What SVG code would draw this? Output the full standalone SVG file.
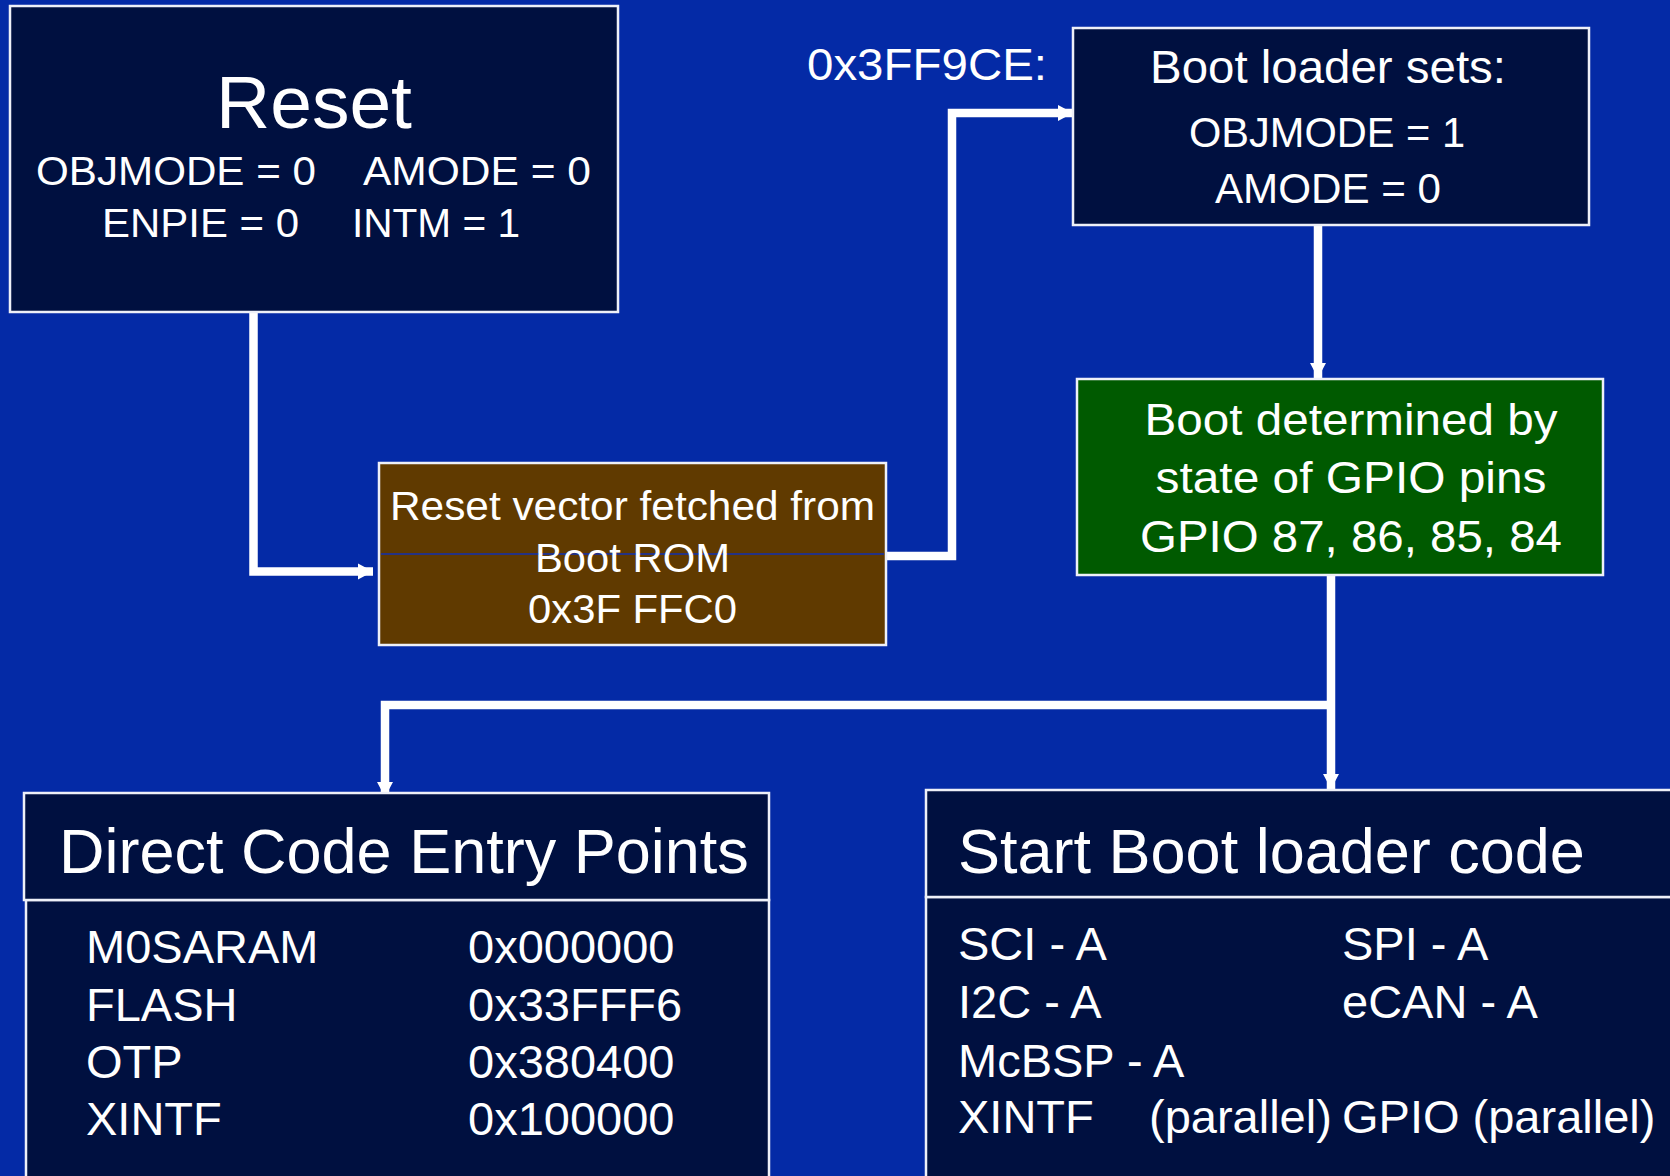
<svg xmlns="http://www.w3.org/2000/svg" width="1670" height="1176" viewBox="0 0 1670 1176">
<defs>
<style>
.box{stroke:#eef0f8;stroke-width:2.5}
.navy{fill:#001040}
.brown{fill:#603a00}
.green{fill:#005a00}
.t{font-family:"Liberation Sans",Arial,Helvetica,sans-serif;fill:#ffffff}
.m{text-anchor:middle}
.conn{fill:none;stroke:#ffffff;stroke-width:8.5}
</style>
<marker id="ah" markerUnits="userSpaceOnUse" markerWidth="16" markerHeight="18" refX="15" refY="9" orient="auto">
<path d="M0,1 L15,9 L0,17 Z" fill="#ffffff"/>
</marker>
</defs>
<rect x="0" y="0" width="1670" height="1176" fill="#042aa6"/>

<g id="connectors">
<path class="conn" d="M253.5,312 V571.5 H373" marker-end="url(#ah)"/>
<path class="conn" d="M886,556 H952 V113 H1073" marker-end="url(#ah)"/>
<path class="conn" d="M1318,225 V378" marker-end="url(#ah)"/>
<path class="conn" d="M1331,575 V789" marker-end="url(#ah)"/>
<path class="conn" d="M1331,705 H385 V797" marker-end="url(#ah)"/>
</g>

<g id="reset">
<rect class="box navy" x="10" y="6" width="608" height="306"/>
<text class="t m" x="314" y="128" font-size="75">Reset</text>
<text class="t" x="36" y="185" font-size="41" textLength="280" lengthAdjust="spacingAndGlyphs">OBJMODE = 0</text>
<text class="t" x="363" y="185" font-size="41" textLength="228" lengthAdjust="spacingAndGlyphs">AMODE = 0</text>
<text class="t" x="102" y="237" font-size="41" textLength="197" lengthAdjust="spacingAndGlyphs">ENPIE = 0</text>
<text class="t" x="352" y="237" font-size="41" textLength="168" lengthAdjust="spacingAndGlyphs">INTM = 1</text>
</g>

<g id="reset-vector">
<rect class="box brown" x="379" y="463" width="507" height="182"/>
<line x1="381" y1="554" x2="884" y2="554" stroke="#1030b0" stroke-width="1.5"/>
<text class="t m" x="632.5" y="520" font-size="41" textLength="485" lengthAdjust="spacingAndGlyphs">Reset vector fetched from</text>
<text class="t m" x="632.5" y="572" font-size="41" textLength="195" lengthAdjust="spacingAndGlyphs">Boot ROM</text>
<text class="t m" x="632.5" y="623" font-size="41" textLength="209" lengthAdjust="spacingAndGlyphs">0x3F FFC0</text>
</g>

<text class="t" x="807" y="80" font-size="44" textLength="240" lengthAdjust="spacingAndGlyphs">0x3FF9CE:</text>

<g id="boot-loader-sets">
<rect class="box navy" x="1073" y="28" width="516" height="197"/>
<text class="t m" x="1328" y="83" font-size="46" textLength="356" lengthAdjust="spacingAndGlyphs">Boot loader sets:</text>
<text class="t m" x="1327" y="147" font-size="43" textLength="276" lengthAdjust="spacingAndGlyphs">OBJMODE = 1</text>
<text class="t m" x="1328" y="203" font-size="43" textLength="226" lengthAdjust="spacingAndGlyphs">AMODE = 0</text>
</g>

<g id="gpio-boot">
<rect class="box green" x="1077" y="379" width="526" height="196"/>
<text class="t m" x="1351" y="435" font-size="44" textLength="413" lengthAdjust="spacingAndGlyphs">Boot determined by</text>
<text class="t m" x="1351" y="493" font-size="44" textLength="391" lengthAdjust="spacingAndGlyphs">state of GPIO pins</text>
<text class="t m" x="1351" y="552" font-size="44" textLength="422" lengthAdjust="spacingAndGlyphs">GPIO 87, 86, 85, 84</text>
</g>

<g id="direct-entry">
<rect class="box navy" x="26" y="900" width="743" height="320"/>
<rect class="box navy" x="24" y="793" width="745" height="107"/>
<text class="t" x="59" y="873" font-size="63">Direct Code Entry Points</text>
<g class="t" font-size="47">
<text x="86" y="963">M0SARAM</text>
<text x="86" y="1021">FLASH</text>
<text x="86" y="1078">OTP</text>
<text x="86" y="1135">XINTF</text>
<text x="468" y="963">0x000000</text>
<text x="468" y="1021">0x33FFF6</text>
<text x="468" y="1078">0x380400</text>
<text x="468" y="1135">0x100000</text>
</g>
</g>

<g id="boot-loader-code">
<rect class="box navy" x="926" y="897" width="800" height="320"/>
<rect class="box navy" x="926" y="790" width="800" height="107"/>
<text class="t" x="958" y="873" font-size="63">Start Boot loader code</text>
<g class="t" font-size="47">
<text x="958" y="960">SCI - A</text>
<text x="958" y="1018">I2C - A</text>
<text x="958" y="1077">McBSP - A</text>
<text x="958" y="1133">XINTF</text>
<text x="1149" y="1133">(parallel)</text>
<text x="1342" y="960">SPI - A</text>
<text x="1342" y="1018">eCAN - A</text>
<text x="1342" y="1133">GPIO (parallel)</text>
</g>
</g>
</svg>
